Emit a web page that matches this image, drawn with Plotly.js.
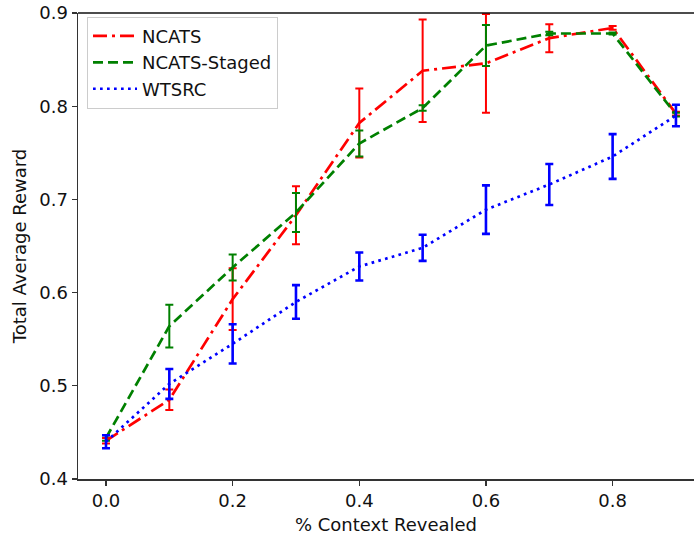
<!DOCTYPE html>
<html>
<head>
<meta charset="utf-8">
<script src="https://cdn.plot.ly/plotly-3.0.1.min.js"></script>
<style>
  html, body { margin: 0; padding: 0; background: #fff; }
  #chart { width: 694px; height: 536px; }
</style>
</head>
<body>
<div id="chart"></div>
<script>
// ---- data ----
var contextRevealed = [0.0, 0.1, 0.2, 0.3, 0.4, 0.5, 0.6, 0.7, 0.8, 0.9];

var ncatsMean   = [0.441, 0.485, 0.593, 0.683, 0.782, 0.838, 0.846, 0.873, 0.884, 0.792];
var ncatsErr    = [0.003, 0.011, 0.033, 0.031, 0.037, 0.055, 0.053, 0.015, 0.002, 0.002];

var stagedMean  = [0.444, 0.564, 0.627, 0.686, 0.760, 0.798, 0.865, 0.878, 0.878, 0.791];
var stagedErr   = [0.003, 0.023, 0.014, 0.021, 0.014, 0.003, 0.022, 0.002, 0.001, 0.002];

var wtsrcMean   = [0.440, 0.502, 0.545, 0.590, 0.628, 0.648, 0.689, 0.716, 0.746, 0.790];
var wtsrcErr    = [0.007, 0.016, 0.021, 0.018, 0.015, 0.014, 0.026, 0.022, 0.024, 0.0115];

var seriesNames = ["NCATS", "NCATS-Staged", "WTSRC"];
var yTickVals = [0.4, 0.5, 0.6, 0.7, 0.8, 0.9];
var xTickVals = [0.0, 0.2, 0.4, 0.6, 0.8];

var FONT = "DejaVu Sans, Liberation Sans, sans-serif";
var FS = 18;

function makeTrace(name, ys, errs, color, dash, lw, ew, group) {
  return {
    type: "scatter",
    mode: "lines",
    name: name,
    x: contextRevealed,
    y: ys,
    legendgroup: group,
    line: { color: color, width: lw, dash: dash },
    error_y: { type: "data", array: errs, visible: true, color: color, thickness: ew, width: 4 },
    cliponaxis: false
  };
}

var traces = [
  makeTrace(seriesNames[0], ncatsMean, ncatsErr, "#ff0000", "14px,5px,3px,5px", 2.7, 2, "a"),
  makeTrace(seriesNames[1], stagedMean, stagedErr, "#008000", "10px,5px", 2.7, 2, "b"),
  makeTrace(seriesNames[2], wtsrcMean, wtsrcErr, "#0000ff", "2.7px,4.3px", 2.7, 2.6, "c")
];

var layout = {
  width: 694,
  height: 536,
  margin: { l: 78, r: 0, t: 13, b: 57 },
  paper_bgcolor: "#ffffff",
  plot_bgcolor: "#ffffff",
  font: { family: FONT, size: FS, color: "#111" },
  showlegend: true,
  legend: {
    x: 0.0146, y: 0.992, xanchor: "left", yanchor: "top",
    bgcolor: "rgba(255,255,255,0.9)",
    bordercolor: "#cccccc", borderwidth: 1,
    font: { family: FONT, size: FS, color: "#111" },
    traceorder: "grouped",
    tracegroupgap: 0,
    itemwidth: 44,
    entrywidth: 170,
    entrywidthmode: "pixels"
  },
  xaxis: {
    range: [-0.0442, 0.9285],
    tickvals: xTickVals,
    tickformat: ".1f",
    ticks: "outside", ticklen: 5, tickwidth: 1.3, tickcolor: "#333",
    showline: true, linecolor: "#333", linewidth: 1.5,
    showgrid: false, zeroline: false,
    tickfont: { family: FONT, size: FS, color: "#111" },
    title: { text: "% Context Revealed", font: { family: FONT, size: FS, color: "#111" }, standoff: 8 }
  },
  yaxis: {
    range: [0.4, 0.9],
    tickvals: yTickVals,
    tickformat: ".1f",
    ticks: "outside", ticklen: 5, tickwidth: 1.3, tickcolor: "#333",
    showline: true, linecolor: "#333", linewidth: 1.5,
    showgrid: false, zeroline: false,
    tickfont: { family: FONT, size: FS, color: "#111" },
    title: { text: "Total Average Reward", font: { family: FONT, size: FS, color: "#111" }, standoff: 8 }
  },
  shapes: [
    { type: "line", xref: "paper", yref: "paper", x0: 0, x1: 1, y0: 1, y1: 1,
      line: { color: "#111", width: 1.3 } }
  ]
};

Plotly.newPlot("chart", traces, layout, { displayModeBar: false, staticPlot: true });
</script>
</body>
</html>
